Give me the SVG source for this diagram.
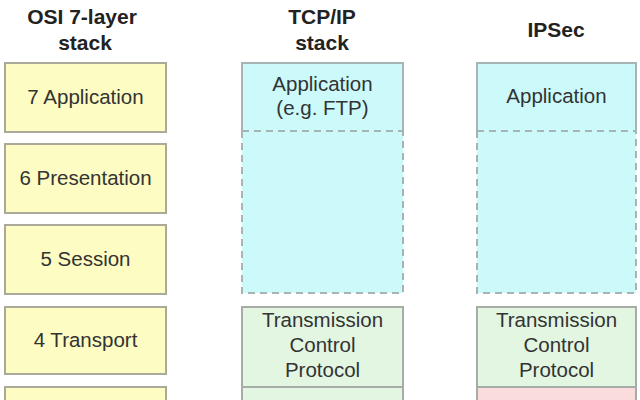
<svg xmlns="http://www.w3.org/2000/svg" width="640" height="400" viewBox="0 0 640 400">
<style>
.hdr{font-family:"Liberation Sans",Arial,sans-serif;font-size:21px;font-weight:bold;fill:#222;text-anchor:middle}
.t{font-family:"Liberation Sans",Arial,sans-serif;font-size:20.5px;fill:#333;text-anchor:middle}
.osi{fill:#fdfcc2;stroke:#aaa99a;stroke-width:2}
.cy{fill:#ccfafa;stroke:none}
.cyb{fill:none;stroke:#a6b4b4;stroke-width:2}
.dash{fill:none;stroke:#a6b4b4;stroke-width:2;stroke-dasharray:7,5}
.gr{fill:#e2f6e2;stroke:#a6ada6;stroke-width:2}
.pk{fill:#fadcdc;stroke:#a6ada6;stroke-width:2}
</style>
<rect width="640" height="400" fill="#ffffff"/>
<g id="headers">
<text class="hdr" x="82" y="24">OSI 7-layer</text>
<text class="hdr" x="85" y="50">stack</text>
<text class="hdr" x="322" y="24">TCP/IP</text>
<text class="hdr" x="322" y="50">stack</text>
<text class="hdr" x="556" y="37">IPSec</text>
</g>
<g id="osi7"><rect class="osi" x="5" y="63" width="161" height="69"/><text class="t" x="85.5" y="104">7 Application</text></g>
<g id="osi6"><rect class="osi" x="5" y="144" width="161" height="69"/><text class="t" x="85.5" y="185">6 Presentation</text></g>
<g id="osi5"><rect class="osi" x="5" y="225" width="161" height="69"/><text class="t" x="85.5" y="266">5 Session</text></g>
<g id="osi4"><rect class="osi" x="5" y="307" width="161" height="67"/><text class="t" x="85.5" y="347">4 Transport</text></g>
<g id="osi3"><rect class="osi" x="5" y="387" width="161" height="69"/></g>
<g id="tcp-app">
<rect class="cy" x="242" y="63" width="161" height="230"/>
<path class="cyb" d="M242,131 V63 H403 V131"/>
<path class="dash" d="M242,131 H403 M242,131 V293 H403 V131"/>
<text class="t" x="322.5" y="91">Application</text>
<text class="t" x="322.5" y="115">(e.g. FTP)</text>
</g>
<g id="tcp-tcp"><rect class="gr" x="242" y="307" width="161" height="80"/>
<text class="t" x="322.5" y="327">Transmission</text><text class="t" x="322.5" y="352">Control</text><text class="t" x="322.5" y="377">Protocol</text></g>
<g id="tcp-ip"><rect class="gr" x="242" y="387" width="161" height="60"/></g>
<g id="ipsec-app">
<rect class="cy" x="477" y="63" width="159" height="230"/>
<path class="cyb" d="M477,131 V63 H636 V131"/>
<path class="dash" d="M477,131 H636 M477,131 V293 H636 V131"/>
<text class="t" x="556.5" y="103">Application</text>
</g>
<g id="ipsec-tcp"><rect class="gr" x="477" y="307" width="159" height="80"/>
<text class="t" x="556.5" y="327">Transmission</text><text class="t" x="556.5" y="352">Control</text><text class="t" x="556.5" y="377">Protocol</text></g>
<g id="ipsec-ipsec"><rect class="pk" x="477" y="387" width="159" height="60"/></g>
<g id="connectors"/>
</svg>
